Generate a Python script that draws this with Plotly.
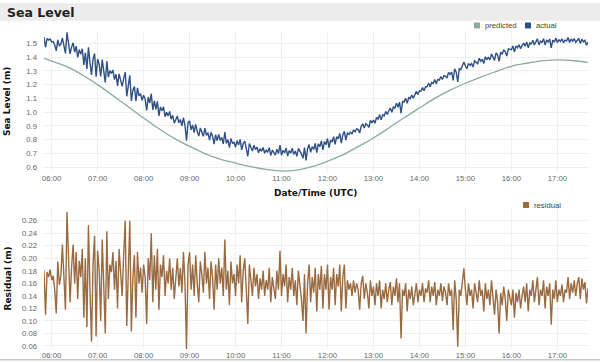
import pandas as pd
import plotly.graph_objects as go

# ---------------- data ----------------
start_time = "2020-01-01 05:50"
step = "2min"

actual_m = [
    1.545, 1.471, 1.535, 1.523, 1.531,
    1.510, 1.513, 1.487, 1.445, 1.524, 1.483, 1.493, 1.539, 1.478, 1.427, 1.579, 1.499, 1.423, 1.472, 1.503,
    1.435, 1.479, 1.398, 1.453, 1.421, 1.460, 1.343, 1.431, 1.314, 1.470, 1.360, 1.270, 1.386, 1.425, 1.257,
    1.387, 1.347, 1.259, 1.381, 1.303, 1.215, 1.370, 1.254, 1.301, 1.281, 1.305, 1.237, 1.275, 1.191, 1.278,
    1.230, 1.187, 1.244, 1.291, 1.115, 1.200, 1.267, 1.082, 1.160, 1.187, 1.079, 1.176, 1.118, 1.134, 1.086,
    1.123, 1.095, 1.012, 1.110, 1.067, 1.134, 1.016, 1.083, 1.021, 1.078, 0.973, 1.038, 1.011, 1.039, 0.967,
    1.000, 0.973, 1.006, 0.949, 0.977, 0.920, 0.954, 0.973, 0.923, 0.947, 0.901, 0.960, 0.905, 0.794, 0.923,
    0.937, 0.872, 0.907, 0.851, 0.911, 0.861, 0.826, 0.886, 0.860, 0.825, 0.885, 0.831, 0.852, 0.798, 0.854,
    0.825, 0.769, 0.837, 0.793, 0.839, 0.795, 0.817, 0.769, 0.856, 0.773, 0.801, 0.743, 0.810, 0.772, 0.784,
    0.746, 0.793, 0.761, 0.803, 0.726, 0.773, 0.790, 0.738, 0.680, 0.773, 0.745, 0.718, 0.761, 0.729, 0.747,
    0.705, 0.736, 0.716, 0.744, 0.702, 0.725, 0.709, 0.743, 0.686, 0.725, 0.709, 0.688, 0.732, 0.700, 0.761,
    0.688, 0.724, 0.704, 0.740, 0.681, 0.722, 0.702, 0.738, 0.694, 0.719, 0.680, 0.738, 0.720, 0.698, 0.665,
    0.743, 0.650, 0.733, 0.765, 0.708, 0.750, 0.729, 0.773, 0.707, 0.771, 0.750, 0.791, 0.727, 0.786, 0.765,
    0.809, 0.742, 0.798, 0.783, 0.822, 0.767, 0.822, 0.806, 0.846, 0.775, 0.835, 0.861, 0.797, 0.848, 0.839,
    0.855, 0.841, 0.872, 0.858, 0.879, 0.875, 0.849, 0.898, 0.916, 0.885, 0.917, 0.908, 0.889, 0.940, 0.922,
    0.943, 0.920, 0.962, 0.950, 0.982, 0.944, 0.981, 0.973, 1.006, 0.983, 1.010, 1.030, 1.000, 1.038, 1.030,
    1.066, 1.035, 1.073, 0.992, 1.078, 1.075, 1.102, 1.064, 1.106, 1.098, 1.125, 1.102, 1.129, 1.151, 1.128,
    1.155, 1.152, 1.179, 1.156, 1.185, 1.185, 1.212, 1.184, 1.216, 1.208, 1.237, 1.206, 1.237, 1.233, 1.259,
    1.237, 1.266, 1.262, 1.248, 1.289, 1.275, 1.290, 1.230, 1.315, 1.290, 1.219, 1.315, 1.310, 1.335, 1.364,
    1.335, 1.315, 1.354, 1.339, 1.353, 1.328, 1.372, 1.362, 1.351, 1.391, 1.370, 1.384, 1.353, 1.402, 1.381,
    1.400, 1.379, 1.423, 1.402, 1.376, 1.430, 1.414, 1.368, 1.436, 1.420, 1.454, 1.438, 1.407, 1.460, 1.454,
    1.453, 1.480, 1.437, 1.480, 1.467, 1.489, 1.461, 1.483, 1.501, 1.478, 1.510, 1.467, 1.503, 1.495, 1.522,
    1.488, 1.515, 1.532, 1.488, 1.515, 1.507, 1.533, 1.488, 1.524, 1.510, 1.531, 1.466, 1.522, 1.508, 1.539,
    1.505, 1.525, 1.514, 1.532, 1.503, 1.523, 1.517, 1.542, 1.506, 1.531, 1.515, 1.534, 1.507, 1.526, 1.535,
    1.499, 1.530, 1.511, 1.522, 1.486, 1.509,
]

residual_m = [
    0.180, 0.110, 0.178, 0.170, 0.182,
    0.165, 0.172, 0.150, 0.112, 0.195, 0.158, 0.172, 0.222, 0.165, 0.118, 0.274, 0.200, 0.130, 0.185, 0.222,
    0.160, 0.210, 0.135, 0.196, 0.170, 0.215, 0.105, 0.200, 0.090, 0.253, 0.150, 0.067, 0.190, 0.236, 0.075,
    0.212, 0.180, 0.100, 0.230, 0.160, 0.080, 0.243, 0.135, 0.190, 0.178, 0.210, 0.150, 0.196, 0.120, 0.215,
    0.175, 0.140, 0.205, 0.260, 0.092, 0.185, 0.260, 0.083, 0.170, 0.205, 0.105, 0.210, 0.160, 0.185, 0.145,
    0.190, 0.170, 0.095, 0.200, 0.165, 0.240, 0.130, 0.205, 0.150, 0.215, 0.118, 0.190, 0.170, 0.205, 0.140,
    0.180, 0.160, 0.200, 0.150, 0.185, 0.135, 0.175, 0.200, 0.155, 0.185, 0.145, 0.210, 0.160, 0.055, 0.190,
    0.210, 0.150, 0.190, 0.140, 0.205, 0.160, 0.130, 0.195, 0.175, 0.145, 0.210, 0.160, 0.185, 0.135, 0.195,
    0.170, 0.118, 0.190, 0.150, 0.200, 0.160, 0.185, 0.140, 0.230, 0.150, 0.180, 0.125, 0.195, 0.160, 0.175,
    0.140, 0.190, 0.160, 0.205, 0.130, 0.180, 0.200, 0.150, 0.095, 0.190, 0.165, 0.140, 0.185, 0.155, 0.175,
    0.135, 0.168, 0.150, 0.180, 0.140, 0.165, 0.150, 0.185, 0.130, 0.170, 0.155, 0.135, 0.180, 0.150, 0.212,
    0.140, 0.175, 0.155, 0.190, 0.130, 0.170, 0.150, 0.185, 0.140, 0.165, 0.125, 0.180, 0.160, 0.135, 0.100,
    0.175, 0.080, 0.160, 0.190, 0.130, 0.170, 0.145, 0.185, 0.115, 0.175, 0.150, 0.188, 0.120, 0.175, 0.150,
    0.190, 0.118, 0.170, 0.150, 0.185, 0.125, 0.175, 0.155, 0.190, 0.115, 0.170, 0.190, 0.120, 0.165, 0.150,
    0.160, 0.140, 0.165, 0.145, 0.160, 0.150, 0.118, 0.160, 0.172, 0.135, 0.160, 0.145, 0.120, 0.165, 0.140,
    0.155, 0.125, 0.160, 0.140, 0.165, 0.120, 0.150, 0.135, 0.160, 0.130, 0.150, 0.162, 0.125, 0.155, 0.140,
    0.168, 0.130, 0.160, 0.072, 0.150, 0.140, 0.160, 0.115, 0.150, 0.135, 0.155, 0.125, 0.145, 0.160, 0.130,
    0.150, 0.140, 0.160, 0.130, 0.152, 0.145, 0.165, 0.130, 0.155, 0.140, 0.162, 0.125, 0.150, 0.140, 0.160,
    0.132, 0.155, 0.145, 0.125, 0.160, 0.140, 0.150, 0.085, 0.165, 0.135, 0.059, 0.150, 0.140, 0.160, 0.184,
    0.150, 0.125, 0.160, 0.140, 0.150, 0.120, 0.160, 0.145, 0.130, 0.165, 0.140, 0.150, 0.115, 0.160, 0.135,
    0.150, 0.125, 0.165, 0.140, 0.110, 0.150, 0.130, 0.080, 0.145, 0.125, 0.155, 0.135, 0.100, 0.150, 0.140,
    0.125, 0.150, 0.105, 0.145, 0.130, 0.150, 0.120, 0.140, 0.155, 0.130, 0.160, 0.115, 0.150, 0.140, 0.165,
    0.130, 0.155, 0.170, 0.125, 0.150, 0.140, 0.165, 0.120, 0.155, 0.140, 0.160, 0.094, 0.150, 0.135, 0.165,
    0.130, 0.150, 0.140, 0.158, 0.130, 0.150, 0.145, 0.170, 0.135, 0.160, 0.145, 0.165, 0.140, 0.160, 0.170,
    0.135, 0.168, 0.150, 0.162, 0.128, 0.152,
]

predicted_times = [
    "05:50", "06:00", "06:20", "06:40", "07:00", "07:20", "07:40", "08:00", "08:20", "08:40",
    "09:00", "09:20", "09:40", "10:00", "10:20", "10:40", "11:00", "11:20", "11:40", "12:00",
    "12:20", "12:40", "13:00", "13:20", "13:40", "14:00", "14:20", "14:40", "15:00", "15:20",
    "15:40", "16:00", "16:20", "16:40", "17:00", "17:20", "17:40",
]
predicted_m = [
    1.390, 1.370, 1.330, 1.270, 1.200, 1.120, 1.040, 0.958, 0.880, 0.810,
    0.752, 0.700, 0.660, 0.631, 0.605, 0.585, 0.573, 0.580, 0.605, 0.644,
    0.690, 0.750, 0.813, 0.885, 0.960, 1.030, 1.100, 1.160, 1.210, 1.255,
    1.295, 1.333, 1.355, 1.372, 1.380, 1.375, 1.362,
]

sea_ticks = [0.6, 0.7, 0.8, 0.9, 1.0, 1.1, 1.2, 1.3, 1.4, 1.5]
resid_ticks = [0.06, 0.08, 0.10, 0.12, 0.14, 0.16, 0.18, 0.20, 0.22, 0.24, 0.26]
x_range = ["2020-01-01 05:50", "2020-01-01 17:40"]

# ---------------- styling ----------------
W, H = 600, 362
C_ACT = "#2f5186"
C_PRED = "#8aaaa2"
C_RES = "#9a6b40"
GRID = "#efefef"
TICKFONT = dict(family="Liberation Sans, Arial", size=7.7, color="#666666")
BOLD = "DejaVu Sans, Verdana"

t_act = pd.date_range(start_time, periods=len(actual_m), freq=step)
t_res = pd.date_range(start_time, periods=len(residual_m), freq=step)
t_pred = pd.to_datetime(["2020-01-01 " + t for t in predicted_times])


def px_x(x):
    return x / W


def px_y(y):
    return 1 - y / H


fig = go.Figure()
fig.add_trace(go.Scatter(x=t_pred, y=predicted_m, mode="lines", name="predicted",
                         line=dict(color=C_PRED, width=1.3, shape="spline"),
                         xaxis="x", yaxis="y", showlegend=False, hoverinfo="skip"))
fig.add_trace(go.Scatter(x=t_act, y=actual_m, mode="lines", name="actual",
                         line=dict(color=C_ACT, width=1.4),
                         xaxis="x", yaxis="y", showlegend=False, hoverinfo="skip"))
fig.add_trace(go.Scatter(x=t_res, y=residual_m, mode="lines", name="residual",
                         line=dict(color=C_RES, width=1.4),
                         xaxis="x2", yaxis="y2", showlegend=False, hoverinfo="skip"))

xdom = [px_x(44), px_x(588)]
common_x = dict(type="date", range=x_range, tickformat="%H:%M", dtick=3600000,
                tick0="2020-01-01 06:00", showgrid=True, gridcolor=GRID, gridwidth=1,
                zeroline=False, showline=False, ticks="", tickfont=TICKFONT,
                automargin=False, domain=xdom, fixedrange=True)
common_y = dict(showgrid=True, gridcolor=GRID, gridwidth=1, zeroline=False,
                showline=False, ticks="", tickfont=TICKFONT, automargin=False,
                ticklabelstandoff=6, fixedrange=True)

fig.update_layout(
    width=W, height=H,
    margin=dict(l=0, r=0, t=0, b=0),
    paper_bgcolor="white", plot_bgcolor="white",
    showlegend=False, hovermode=False, dragmode=False,
    xaxis=dict(common_x, anchor="y"),
    xaxis2=dict(common_x, anchor="y2"),
    yaxis=dict(common_y, domain=[px_y(172), px_y(31)], range=[0.566, 1.589],
               tickvals=sea_ticks, tickformat=".1f", anchor="x"),
    yaxis2=dict(common_y, domain=[px_y(349), px_y(208)], range=[0.0552, 0.2803],
                tickvals=resid_ticks, tickformat=".2f", anchor="x2"),
)

shapes = [
    # title band
    dict(type="rect", xref="paper", yref="paper", x0=0, x1=1, y0=px_y(20.7), y1=px_y(3.3),
         fillcolor="#ececec", line=dict(width=0), layer="below"),
    # bottom border line
    dict(type="line", xref="paper", yref="paper", x0=0, x1=1, y0=px_y(359.8), y1=px_y(359.8),
         line=dict(color="#c8c8c8", width=1.5)),
]

legend_items = [
    ("predicted", C_PRED, 474, 25.5),
    ("actual", C_ACT, 525, 25.5),
    ("residual", C_RES, 523, 205),
]
annotations = [
    dict(text="<b>Sea Level</b>", x=px_x(5), y=px_y(12), xref="paper", yref="paper",
         xanchor="left", yanchor="middle", showarrow=False,
         font=dict(family=BOLD, size=12.5, color="#222222")),
    dict(text="<b>Sea Level (m)</b>", x=px_x(7.5), y=px_y(101.5), xref="paper", yref="paper",
         xanchor="center", yanchor="middle", showarrow=False, textangle=-90,
         font=dict(family=BOLD, size=9, color="#111111")),
    dict(text="<b>Residual (m)</b>", x=px_x(7.5), y=px_y(279), xref="paper", yref="paper",
         xanchor="center", yanchor="middle", showarrow=False, textangle=-90,
         font=dict(family=BOLD, size=9, color="#111111")),
    dict(text="<b>Date/Time (UTC)</b>", x=px_x(316), y=px_y(193), xref="paper", yref="paper",
         xanchor="center", yanchor="middle", showarrow=False,
         font=dict(family=BOLD, size=9, color="#111111")),
]
for name, col, x0, yc in legend_items:
    shapes.append(dict(type="rect", xref="paper", yref="paper",
                       x0=px_x(x0), x1=px_x(x0 + 6), y0=px_y(yc + 3), y1=px_y(yc - 3),
                       fillcolor=col, line=dict(width=0)))
    annotations.append(dict(text=name, x=px_x(x0 + 9), y=px_y(yc), xref="paper", yref="paper",
                            xanchor="left", yanchor="middle", showarrow=False,
                            font=dict(family="Liberation Sans, Arial", size=7.7, color="#444444")))

fig.update_layout(shapes=shapes, annotations=annotations)

fig.write_html("out.html", config={"displayModeBar": False, "staticPlot": True},
               post_script="document.body.style.margin='0';")
